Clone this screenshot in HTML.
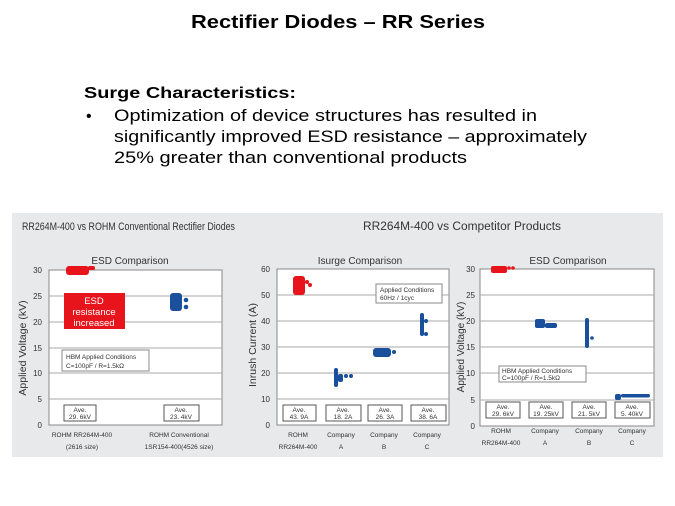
<!DOCTYPE html>
<html><head><meta charset="utf-8"><style>
html,body{margin:0;padding:0;background:#fff}
svg{display:block;font-family:"Liberation Sans",sans-serif}
</style></head><body>
<svg width="675" height="506" viewBox="0 0 675 506" xmlns="http://www.w3.org/2000/svg">
<text x="338" y="28" text-anchor="middle" font-size="18" font-weight="bold" textLength="294" lengthAdjust="spacingAndGlyphs">Rectifier Diodes – RR Series</text>
<text x="84" y="98" font-size="15.5" font-weight="bold" textLength="212" lengthAdjust="spacingAndGlyphs">Surge Characteristics:</text>
<text x="86" y="121" font-size="16">•</text>
<text x="114" y="121" font-size="17" textLength="423" lengthAdjust="spacingAndGlyphs">Optimization of device structures has resulted in</text>
<text x="114" y="142" font-size="17" textLength="473" lengthAdjust="spacingAndGlyphs">significantly improved ESD resistance – approximately</text>
<text x="114" y="163" font-size="17" textLength="353" lengthAdjust="spacingAndGlyphs">25% greater than conventional products</text>

<rect x="12" y="213" width="651" height="244" fill="#e7e9ea"/>
<text x="22" y="230" font-size="11" fill="#333" textLength="213" lengthAdjust="spacingAndGlyphs">RR264M-400 vs ROHM Conventional Rectifier Diodes</text>
<text x="462" y="230" font-size="11.5" fill="#333" text-anchor="middle" textLength="198" lengthAdjust="spacingAndGlyphs">RR264M-400 vs Competitor Products</text>

<!-- Chart 1 -->
<g font-size="8" fill="#333">
<rect x="49" y="270" width="173" height="155" fill="#fff" stroke="#888"/>
<g stroke="#aaa" stroke-width="1"><line x1="49" y1="296" x2="222" y2="296"/><line x1="49" y1="322" x2="222" y2="322"/><line x1="49" y1="348" x2="222" y2="348"/><line x1="49" y1="373" x2="222" y2="373"/><line x1="49" y1="399" x2="222" y2="399"/></g>
<g text-anchor="end"><text x="42" y="273">30</text><text x="42" y="299">25</text><text x="42" y="325">20</text><text x="42" y="351">15</text><text x="42" y="376">10</text><text x="42" y="402">5</text><text x="42" y="428">0</text></g>
<text x="130" y="264" text-anchor="middle" font-size="10">ESD Comparison</text>
<text transform="translate(26,348) rotate(-90)" text-anchor="middle" font-size="10.5">Applied Voltage (kV)</text>
<g fill="#e8141c"><rect x="66" y="266" width="23" height="9" rx="3"/><rect x="88" y="266" width="7" height="4" rx="2"/></g>
<rect x="64" y="293" width="61" height="36" fill="#e8141c"/>
<g fill="#fff" font-size="9.5" text-anchor="middle"><text x="94" y="304">ESD</text><text x="94" y="315">resistance</text><text x="94" y="326">increased</text></g>
<g fill="#1a4f9c"><rect x="170" y="293" width="12" height="18" rx="3"/><circle cx="186" cy="300" r="2.3"/><circle cx="186" cy="307" r="2.3"/></g>
<rect x="62" y="350" width="87" height="21" fill="#fff" stroke="#888"/>
<text x="66" y="359" font-size="6.5">HBM Applied Conditions</text><text x="66" y="368" font-size="6.5">C=100pF / R=1.5kΩ</text>
<rect x="64" y="405" width="32" height="16" fill="#fff" stroke="#555"/><text x="80" y="412" text-anchor="middle" font-size="6.5">Ave.</text><text x="80" y="419" text-anchor="middle" font-size="6.5">29. 6kV</text>
<rect x="164" y="405" width="35" height="16" fill="#fff" stroke="#555"/><text x="181" y="412" text-anchor="middle" font-size="6.5">Ave.</text><text x="181" y="419" text-anchor="middle" font-size="6.5">23. 4kV</text>
<g font-size="6.5" text-anchor="middle"><text x="82" y="437">ROHM RR264M-400</text><text x="82" y="449">(2616 size)</text><text x="179" y="437">ROHM Conventional</text><text x="179" y="449">1SR154-400(4526 size)</text></g>
</g>

<!-- Chart 2 -->
<g font-size="8" fill="#333">
<rect x="277" y="269" width="172" height="156" fill="#fff" stroke="#888"/>
<g stroke="#aaa"><line x1="277" y1="295" x2="449" y2="295"/><line x1="277" y1="321" x2="449" y2="321"/><line x1="277" y1="347" x2="449" y2="347"/><line x1="277" y1="373" x2="449" y2="373"/><line x1="277" y1="399" x2="449" y2="399"/></g>
<g text-anchor="end"><text x="270" y="272">60</text><text x="270" y="298">50</text><text x="270" y="324">40</text><text x="270" y="350">30</text><text x="270" y="376">20</text><text x="270" y="402">10</text><text x="270" y="428">0</text></g>
<text x="360" y="264" text-anchor="middle" font-size="10">Isurge  Comparison</text>
<text transform="translate(256,345) rotate(-90)" text-anchor="middle" font-size="10.5">Inrush Current (A)</text>
<g fill="#e8141c"><rect x="293" y="276" width="12" height="19" rx="3"/><circle cx="307" cy="282" r="2"/><circle cx="310" cy="285" r="2"/></g>
<rect x="376" y="284" width="66" height="19" fill="#fff" stroke="#888"/>
<text x="380" y="292" font-size="6.5">Applied Conditions</text><text x="380" y="300" font-size="6.5">60Hz / 1cyc</text>
<g fill="#1a4f9c"><rect x="334" y="368" width="4" height="19" rx="2"/><rect x="338" y="374" width="5" height="8" rx="2"/><circle cx="346" cy="376" r="2"/><circle cx="351" cy="376" r="2"/>
<rect x="373" y="348" width="18" height="9" rx="3"/><circle cx="394" cy="352" r="2"/>
<rect x="420" y="313" width="4" height="23" rx="2"/><circle cx="426" cy="321" r="2"/><circle cx="426" cy="334" r="2"/></g>
<g font-size="6.5" text-anchor="middle">
<rect x="283" y="405" width="33" height="16" fill="#fff" stroke="#555"/><text x="299" y="412">Ave.</text><text x="299" y="419">43. 9A</text>
<rect x="326" y="405" width="35" height="16" fill="#fff" stroke="#555"/><text x="343" y="412">Ave.</text><text x="343" y="419">18. 2A</text>
<rect x="368" y="405" width="34" height="16" fill="#fff" stroke="#555"/><text x="385" y="412">Ave.</text><text x="385" y="419">26. 3A</text>
<rect x="411" y="405" width="35" height="16" fill="#fff" stroke="#555"/><text x="428" y="412">Ave.</text><text x="428" y="419">38. 6A</text>
<text x="298" y="437">ROHM</text><text x="298" y="449">RR264M-400</text>
<text x="341" y="437">Company</text><text x="341" y="449">A</text>
<text x="384" y="437">Company</text><text x="384" y="449">B</text>
<text x="427" y="437">Company</text><text x="427" y="449">C</text></g>
</g>

<!-- Chart 3 -->
<g font-size="8" fill="#333">
<rect x="480" y="269" width="174" height="157" fill="#fff" stroke="#888"/>
<g stroke="#aaa"><line x1="480" y1="295" x2="654" y2="295"/><line x1="480" y1="321" x2="654" y2="321"/><line x1="480" y1="347" x2="654" y2="347"/><line x1="480" y1="373" x2="654" y2="373"/><line x1="480" y1="400" x2="654" y2="400"/></g>
<g text-anchor="end"><text x="475" y="272">30</text><text x="475" y="298">25</text><text x="475" y="324">20</text><text x="475" y="350">15</text><text x="475" y="376">10</text><text x="475" y="403">5</text><text x="475" y="429">0</text></g>
<text x="568" y="264" text-anchor="middle" font-size="10">ESD Comparison</text>
<text transform="translate(464,347) rotate(-90)" text-anchor="middle" font-size="10">Applied Voltage (kV)</text>
<g fill="#e8141c"><rect x="491" y="266" width="16" height="7" rx="2"/><circle cx="509" cy="268" r="1.8"/><circle cx="513" cy="268" r="1.8"/></g>
<g fill="#1a4f9c"><rect x="535" y="319" width="10" height="9" rx="2"/><rect x="545" y="323" width="12" height="5" rx="2"/>
<rect x="585" y="318" width="4" height="30" rx="2"/><circle cx="592" cy="338" r="1.8"/>
<rect x="615" y="394" width="6" height="6" rx="2"/><rect x="621" y="394" width="29" height="3.5" rx="1.7"/></g>
<rect x="499" y="366" width="87" height="16" fill="#fff" stroke="#888"/>
<text x="502" y="373" font-size="6.5">HBM Applied Conditions</text><text x="502" y="380" font-size="6.5">C=100pF / R=1.5kΩ</text>
<g font-size="6.5" text-anchor="middle">
<rect x="486" y="402" width="34" height="16" fill="#fff" stroke="#555"/><text x="503" y="409">Ave.</text><text x="503" y="416">29. 6kV</text>
<rect x="529" y="402" width="34" height="16" fill="#fff" stroke="#555"/><text x="546" y="409">Ave.</text><text x="546" y="416">19. 25kV</text>
<rect x="572" y="402" width="34" height="16" fill="#fff" stroke="#555"/><text x="589" y="409">Ave.</text><text x="589" y="416">21. 5kV</text>
<rect x="615" y="402" width="35" height="16" fill="#fff" stroke="#555"/><text x="632" y="409">Ave.</text><text x="632" y="416">5. 40kV</text>
<text x="501" y="433">ROHM</text><text x="501" y="445">RR264M-400</text>
<text x="545" y="433">Company</text><text x="545" y="445">A</text>
<text x="589" y="433">Company</text><text x="589" y="445">B</text>
<text x="632" y="433">Company</text><text x="632" y="445">C</text></g>
</g>
</svg>
</body></html>
